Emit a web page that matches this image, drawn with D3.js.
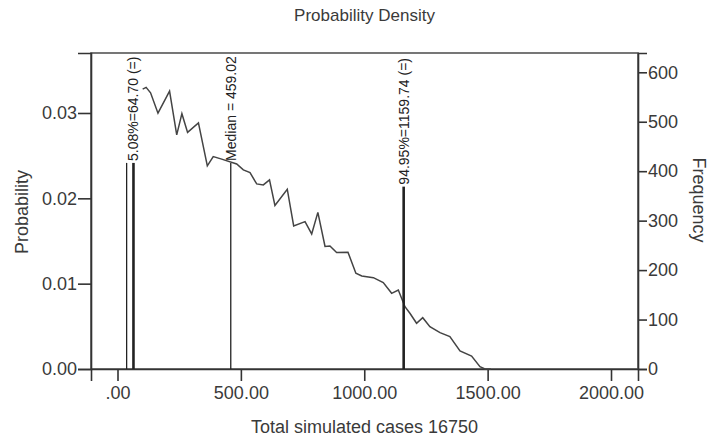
<!DOCTYPE html>
<html>
<head>
<meta charset="utf-8">
<script src="https://cdn.jsdelivr.net/npm/d3@7"></script>
<style>
  body { margin: 0; background: #fff; }
  svg { font-family: "Liberation Sans", Arial, sans-serif; }
</style>
</head>
<body>
<div id="chart"></div>
<script>
// density curve (total cases vs probability)
const caseValues = [102, 116, 134, 164, 211, 240, 261, 284, 328, 364, 388, 419, 483, 510, 537, 564, 591,
  616, 638, 688, 714, 760, 787, 812, 841, 861, 888, 934, 966, 990, 1037, 1077, 1111, 1138, 1165,
  1185, 1212, 1237, 1266, 1307, 1347, 1388, 1435, 1469, 1489, 1513];
const probValues = [0.0328, 0.0330, 0.03236, 0.02998, 0.03256, 0.02743, 0.02992, 0.02773, 0.02884, 0.0238,
  0.02489, 0.02462, 0.02403, 0.02333, 0.02301, 0.02169, 0.02157, 0.02216, 0.01917, 0.02107,
  0.01676, 0.01727, 0.01583, 0.01835, 0.01436, 0.01442, 0.01366, 0.01369, 0.01122, 0.0109,
  0.0107, 0.01012, 0.00887, 0.00926, 0.0073, 0.00653, 0.00536, 0.00601, 0.00496, 0.00426,
  0.00379, 0.00211, 0.00152, 0.00027, 0, 0];

// reference lines
const markerValues = [37, 64.70, 459.02, 1159.74];
const markerHeights = [0.02415, 0.02415, 0.02415, 0.02137];
const markerLabels = ["", "5.08%=64.70 (=)", "Median = 459.02", "94.95%=1159.74 (=)"];
const markerWidths = [1.3, 2.6, 1.3, 2.6];

const xTicks = [0, 500, 1000, 1500, 2000];
const probTicks = [0, 0.01, 0.02, 0.03];
const freqTicks = [0, 100, 200, 300, 400, 500, 600];

const width = 719, height = 436;
const margin = { top: 53, right: 81, bottom: 67, left: 91 };
const innerW = width - margin.left - margin.right;
const innerH = height - margin.top - margin.bottom;
const textColor = "#3a3a3a";

const svg = d3.select("#chart").append("svg")
  .attr("width", width)
  .attr("height", height);

const g = svg.append("g")
  .attr("transform", `translate(${margin.left},${margin.top})`);

const x = d3.scaleLinear().domain([-107.4, 2109.4]).range([0, innerW]);
const yProb = d3.scaleLinear().domain([0, 0.03703]).range([innerH, 0]);
const yFreq = d3.scaleLinear().domain([0, 639]).range([innerH, 0]);

// frame
g.append("rect")
  .attr("width", innerW)
  .attr("height", innerH)
  .attr("fill", "none")
  .attr("stroke", "#555")
  .attr("stroke-width", 1.6);

// axes
const xAxis = g.append("g")
  .attr("transform", `translate(0,${innerH})`)
  .call(d3.axisBottom(x).tickValues(xTicks).tickSize(12).tickPadding(5)
    .tickFormat(d => d === 0 ? ".00" : d3.format(".2f")(d)));

const leftAxis = g.append("g")
  .call(d3.axisLeft(yProb).tickValues(probTicks).tickSize(13).tickPadding(1)
    .tickFormat(d3.format(".2f")));

const rightAxis = g.append("g")
  .attr("transform", `translate(${innerW},0)`)
  .call(d3.axisRight(yFreq).tickValues(freqTicks).tickSize(9).tickPadding(1)
    .tickFormat(d3.format("d")));

[xAxis, leftAxis, rightAxis].forEach(a => {
  a.select(".domain").attr("stroke", "#333").attr("stroke-width", 1.6);
  a.selectAll(".tick line").attr("stroke", "#333").attr("stroke-width", 1.6);
  a.selectAll(".tick text")
    .attr("fill", textColor)
    .style("font-size", "18px");
});

// density line
const points = caseValues.map((v, i) => [v, probValues[i]]);
g.append("path")
  .datum(points)
  .attr("d", d3.line().x(d => x(d[0])).y(d => yProb(d[1])))
  .attr("fill", "none")
  .attr("stroke", "#444")
  .attr("stroke-width", 1.5);

// reference lines + labels
markerValues.forEach((v, i) => {
  g.append("line")
    .attr("x1", x(v)).attr("x2", x(v))
    .attr("y1", yProb(0)).attr("y2", yProb(markerHeights[i]))
    .attr("stroke", "#222")
    .attr("stroke-width", markerWidths[i]);

  if (markerLabels[i]) {
    g.append("text")
      .attr("transform", `translate(${x(v) + 5},${yProb(markerHeights[i]) - 2}) rotate(-90)`)
      .attr("text-anchor", "start")
      .attr("fill", "#222")
      .style("font-size", "14px")
      .text(markerLabels[i]);
  }
});

// titles
svg.append("text")
  .attr("x", margin.left + innerW / 2)
  .attr("y", 21)
  .attr("text-anchor", "middle")
  .attr("fill", textColor)
  .style("font-size", "17px")
  .text("Probability Density");

svg.append("text")
  .attr("x", margin.left + innerW / 2 + 0)
  .attr("y", 433)
  .attr("text-anchor", "middle")
  .attr("fill", textColor)
  .style("font-size", "18px")
  .text("Total simulated cases 16750");

svg.append("text")
  .attr("transform", `translate(28,212) rotate(-90)`)
  .attr("text-anchor", "middle")
  .attr("fill", textColor)
  .style("font-size", "18px")
  .text("Probability");

svg.append("text")
  .attr("transform", `translate(693,200) rotate(90)`)
  .attr("text-anchor", "middle")
  .attr("fill", textColor)
  .style("font-size", "18px")
  .text("Frequency");
</script>
</body>
</html>
